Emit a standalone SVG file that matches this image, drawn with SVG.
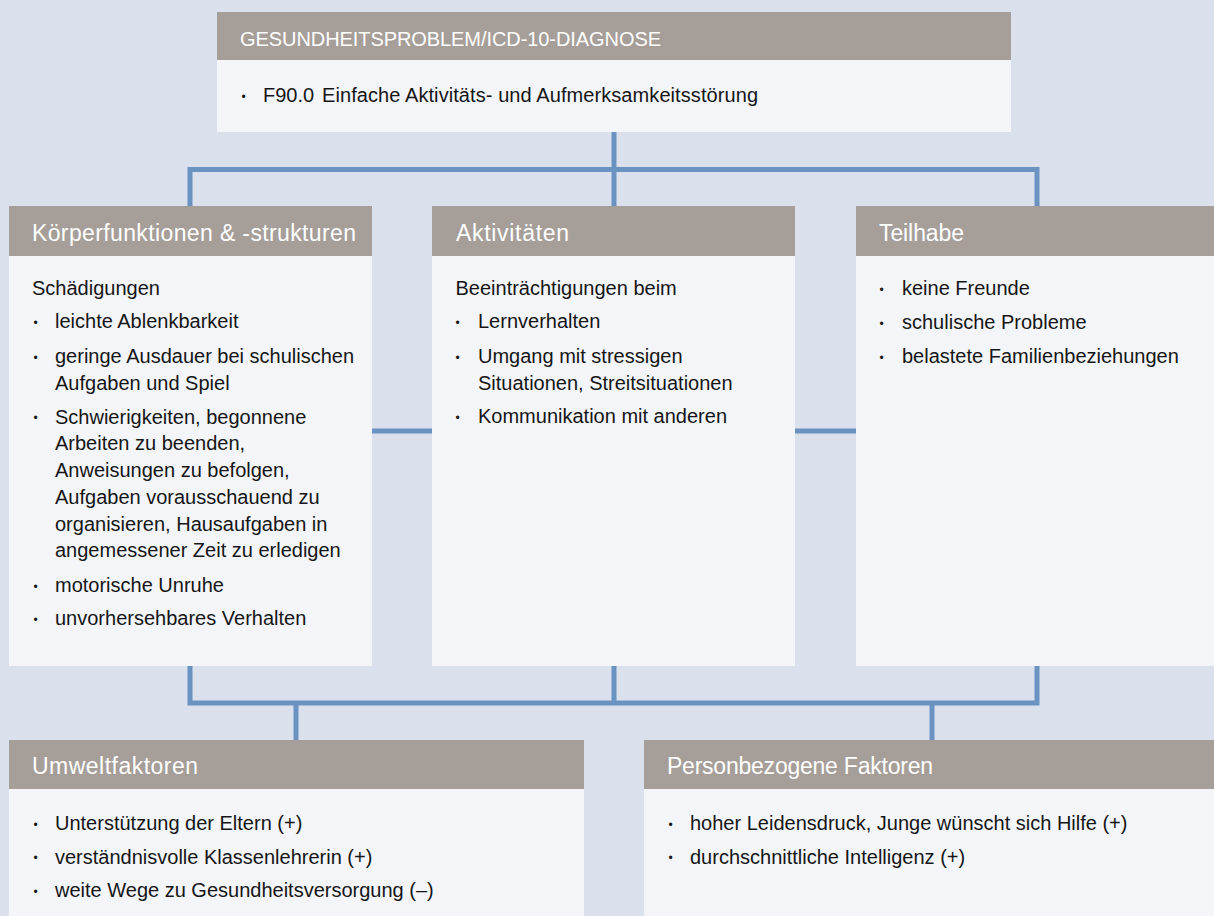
<svg xmlns="http://www.w3.org/2000/svg" width="1214" height="916" viewBox="0 0 1214 916">
<style>
.bg{fill:#dae1ed}
.hd{fill:#a59e99}
.bd{fill:#f3f5f9}
.ht{font-family:"Liberation Sans",Arial,sans-serif;font-size:23px;fill:#ffffff}
.tt{font-family:"Liberation Sans",Arial,sans-serif;font-size:20px;fill:#ffffff}
.t{font-family:"Liberation Sans",Arial,sans-serif;font-size:20px;fill:#161616}
.b{font-family:"Liberation Sans",Arial,sans-serif;font-size:12px;fill:#161616;text-anchor:middle}
.c{fill:none;stroke:#6a93c1;stroke-width:5;stroke-linejoin:miter;stroke-linecap:butt}
</style>
<rect class="bg" x="0" y="0" width="1214" height="916"/>
<g id="connectors">
<path class="c" d="M614,132 V206"/>
<path class="c" d="M190,206 V169.5 H1037 V206"/>
<path class="c" d="M372,431 H432"/>
<path class="c" d="M795,431 H856"/>
<path class="c" d="M190,666 V703 H1037 V666"/>
<path class="c" d="M614,666 V703"/>
<path class="c" d="M296,703 V740"/>
<path class="c" d="M932,703 V740"/>
</g>
<g id="diagnose">
<rect class="hd" x="217" y="12" width="794" height="48"/>
<rect class="bd" x="217" y="60" width="794" height="72"/>
<text class="tt" x="240" y="46" textLength="421">GESUNDHEITSPROBLEM/ICD-10-DIAGNOSE</text>
<text class="b" x="243.5" y="100.5">•</text>
<text class="t" x="263" y="102">F90.0</text>
<text class="t" x="322" y="102" textLength="436">Einfache Aktivitäts- und Aufmerksamkeitsstörung</text>
</g>
<g id="koerper">
<rect class="hd" x="9" y="206" width="363" height="50"/>
<rect class="bd" x="9" y="256" width="363" height="410"/>
<text class="ht" x="32" y="241" textLength="324">Körperfunktionen &amp; -strukturen</text>
<text class="t" x="32" y="295">Schädigungen</text>
<text class="b" x="35.5" y="326.5">•</text>
<text class="t" x="55" y="328">leichte Ablenkbarkeit</text>
<text class="b" x="35.5" y="361.5">•</text>
<text class="t" x="55" y="363">geringe Ausdauer bei schulischen</text>
<text class="t" x="55" y="389.5">Aufgaben und Spiel</text>
<text class="b" x="35.5" y="422">•</text>
<text class="t" x="55" y="423.5">Schwierigkeiten, begonnene</text>
<text class="t" x="55" y="450">Arbeiten zu beenden,</text>
<text class="t" x="55" y="477">Anweisungen zu befolgen,</text>
<text class="t" x="55" y="504">Aufgaben vorausschauend zu</text>
<text class="t" x="55" y="530.5">organisieren, Hausaufgaben in</text>
<text class="t" x="55" y="557">angemessener Zeit zu erledigen</text>
<text class="b" x="35.5" y="590.5">•</text>
<text class="t" x="55" y="592">motorische Unruhe</text>
<text class="b" x="35.5" y="623.5">•</text>
<text class="t" x="55" y="625">unvorhersehbares Verhalten</text>
</g>
<g id="aktivitaeten">
<rect class="hd" x="432" y="206" width="363" height="50"/>
<rect class="bd" x="432" y="256" width="363" height="410"/>
<text class="ht" x="456" y="241" textLength="113">Aktivitäten</text>
<text class="t" x="455.5" y="295">Beeinträchtigungen beim</text>
<text class="b" x="457.5" y="326.5">•</text>
<text class="t" x="478" y="328">Lernverhalten</text>
<text class="b" x="457.5" y="361.5">•</text>
<text class="t" x="478" y="363">Umgang mit stressigen</text>
<text class="t" x="478" y="390">Situationen, Streitsituationen</text>
<text class="b" x="457.5" y="421.5">•</text>
<text class="t" x="478" y="423">Kommunikation mit anderen</text>
</g>
<g id="teilhabe">
<rect class="hd" x="856" y="206" width="358" height="50"/>
<rect class="bd" x="856" y="256" width="358" height="410"/>
<text class="ht" x="879" y="241" textLength="85">Teilhabe</text>
<text class="b" x="881.5" y="293.5">•</text>
<text class="t" x="902" y="295">keine Freunde</text>
<text class="b" x="881.5" y="327.5">•</text>
<text class="t" x="902" y="329">schulische Probleme</text>
<text class="b" x="881.5" y="361.5">•</text>
<text class="t" x="902" y="363">belastete Familienbeziehungen</text>
</g>
<g id="umwelt">
<rect class="hd" x="9" y="740" width="575" height="49"/>
<rect class="bd" x="9" y="789" width="575" height="127"/>
<text class="ht" x="32" y="774" textLength="166">Umweltfaktoren</text>
<text class="b" x="35.5" y="828.5">•</text>
<text class="t" x="55" y="830">Unterstützung der Eltern (+)</text>
<text class="b" x="35.5" y="862">•</text>
<text class="t" x="55" y="863.5">verständnisvolle Klassenlehrerin (+)</text>
<text class="b" x="35.5" y="895.5">•</text>
<text class="t" x="55" y="897">weite Wege zu Gesundheitsversorgung (–)</text>
</g>
<g id="person">
<rect class="hd" x="644" y="740" width="570" height="49"/>
<rect class="bd" x="644" y="789" width="570" height="127"/>
<text class="ht" x="667" y="774" textLength="266">Personbezogene Faktoren</text>
<text class="b" x="670.5" y="828.5">•</text>
<text class="t" x="690" y="830">hoher Leidensdruck, Junge wünscht sich Hilfe (+)</text>
<text class="b" x="670.5" y="862">•</text>
<text class="t" x="690" y="863.5">durchschnittliche Intelligenz (+)</text>
</g>
</svg>
